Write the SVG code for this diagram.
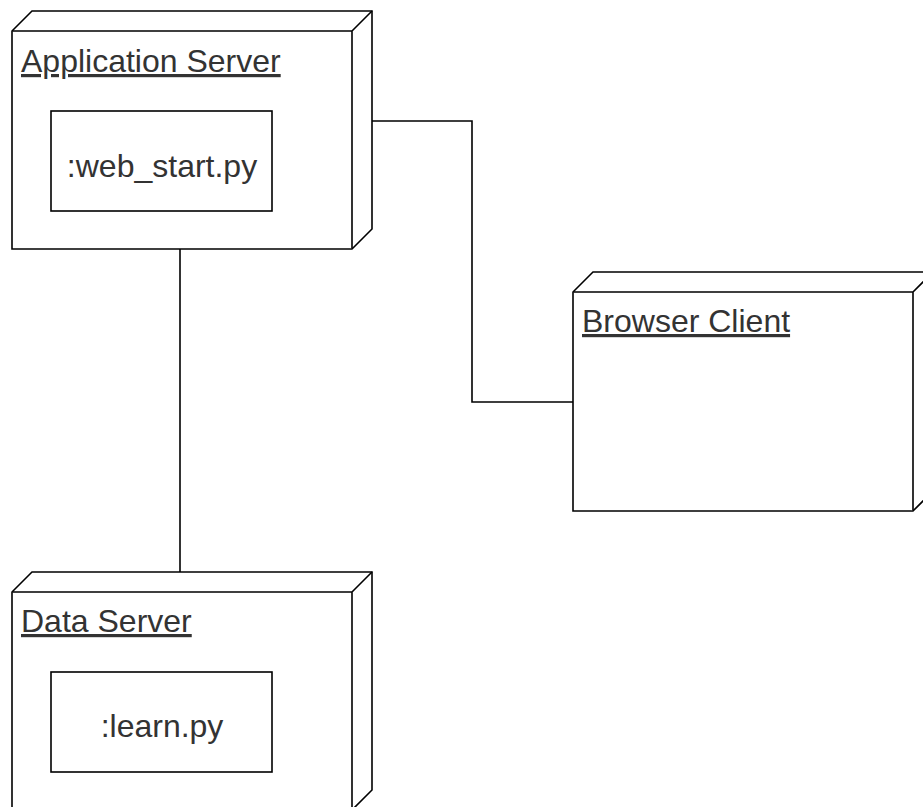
<svg xmlns="http://www.w3.org/2000/svg" width="923" height="807" viewBox="0 0 923 807">
<style>
.box{fill:#fff;stroke:#000;stroke-width:1.6;stroke-linejoin:miter}
.edge{fill:none;stroke:#000;stroke-width:1.6}
.title{font-family:"Liberation Sans",Arial,sans-serif;font-size:32px;fill:#333;text-decoration:underline}
.lbl{font-family:"Liberation Sans",Arial,sans-serif;font-size:32px;fill:#333;text-anchor:middle}
</style>
<rect width="923" height="807" fill="#fff"/>
<g id="connectors">
<path class="edge" d="M372,121 H472 V402 H573"/>
<path class="edge" d="M180,249 V572"/>
</g>
<g id="app-server">
<path class="box" d="M12,31 L32,11 H372 V229 L352,249 H12 Z"/>
<path class="box" d="M12,31 H352 V249 M352,31 L372,11" fill="none"/>
<text class="title" x="21" y="72">Application Server</text>
<g id="web-start">
<rect class="box" x="51" y="111" width="221" height="100"/>
<text class="lbl" x="162" y="177">:web_start.py</text>
</g>
</g>
<g id="browser-client">
<path class="box" d="M573,292 L593,272 H933 V491 L913,511 H573 Z"/>
<path class="box" d="M573,292 H913 V511 M913,292 L933,272" fill="none"/>
<text class="title" x="582" y="332">Browser Client</text>
</g>
<g id="data-server">
<path class="box" d="M12,592 L32,572 H372 V790 L352,810 H12 Z"/>
<path class="box" d="M12,592 H352 V810 M352,592 L372,572" fill="none"/>
<text class="title" x="21" y="632">Data Server</text>
<g id="learn">
<rect class="box" x="51" y="672" width="221" height="100"/>
<text class="lbl" x="162" y="737">:learn.py</text>
</g>
</g>
</svg>
